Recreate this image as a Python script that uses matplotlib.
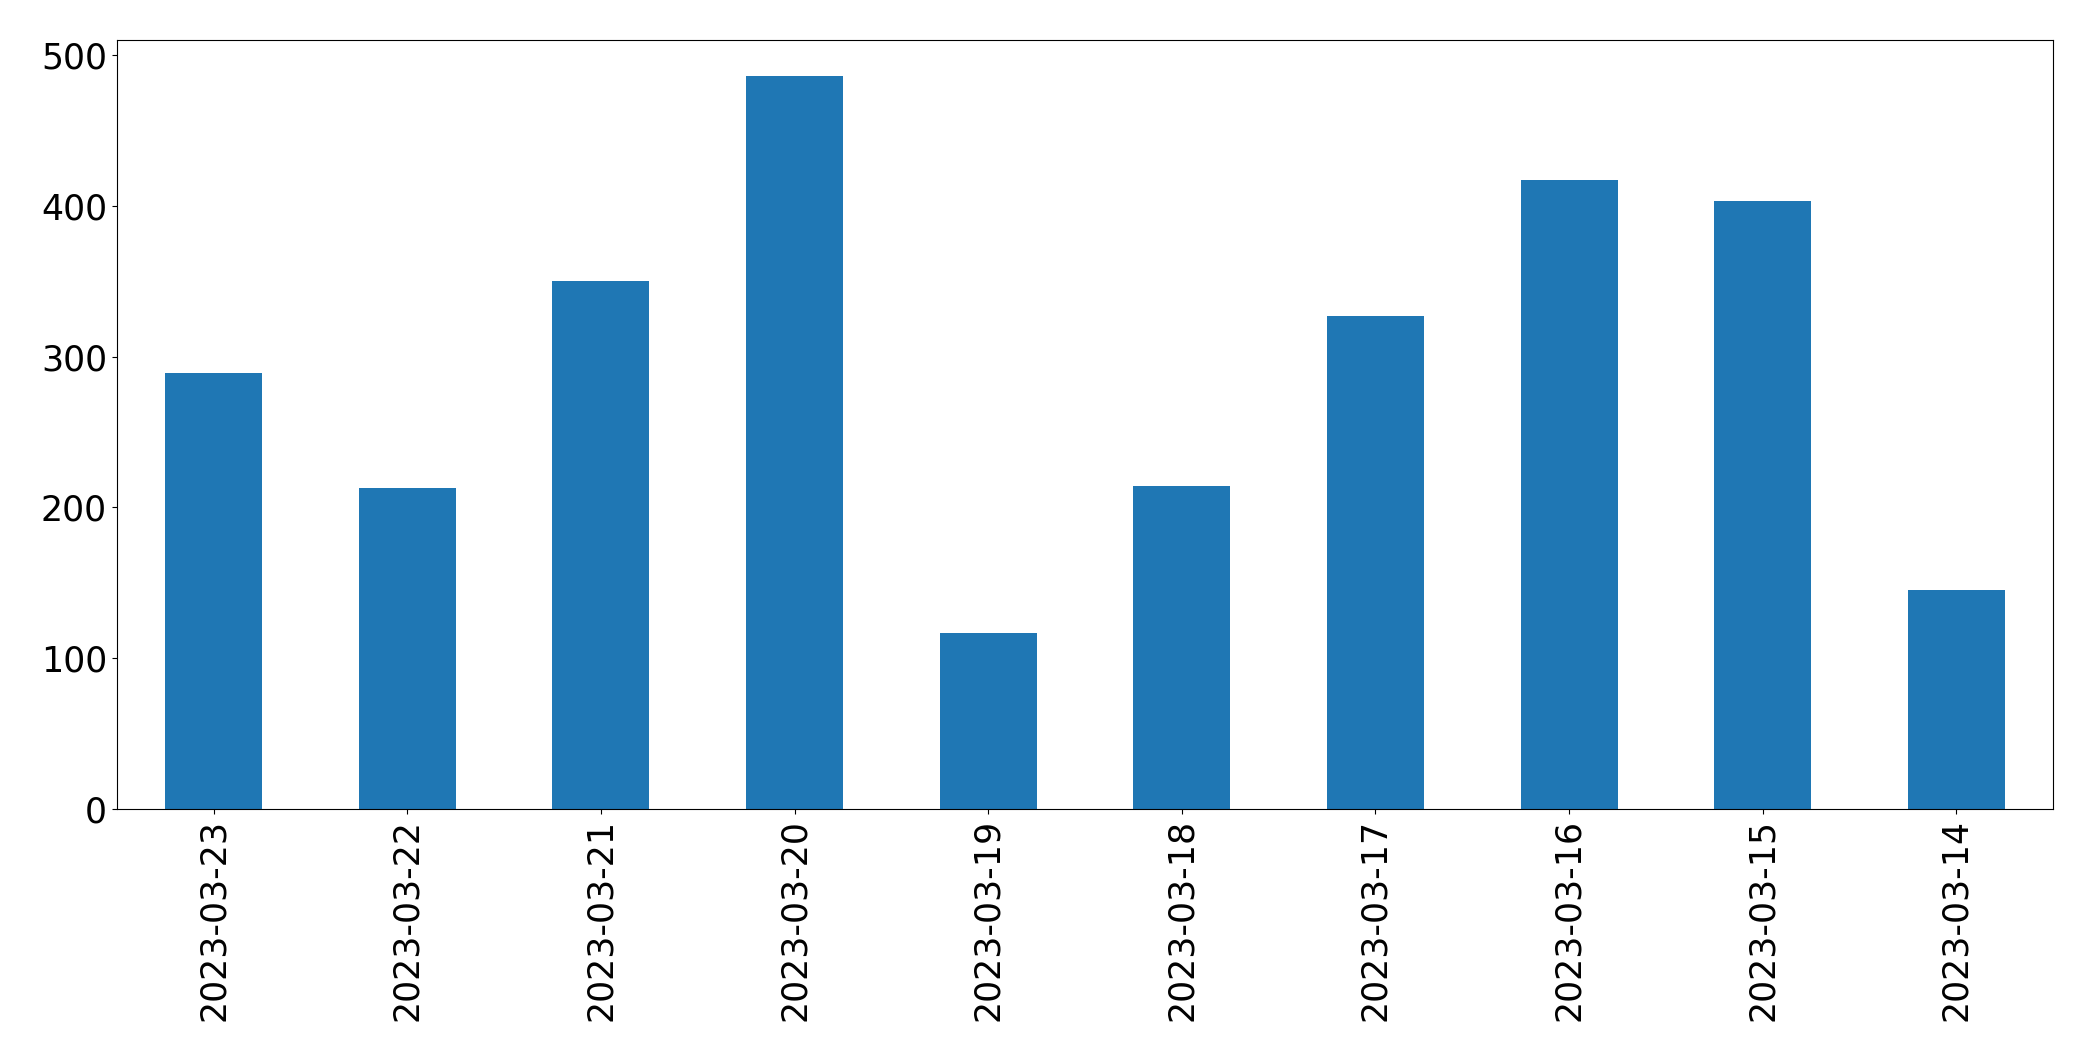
import matplotlib
matplotlib.use("Agg")
import matplotlib.pyplot as plt
import numpy as np

dates = ["2023-03-23", "2023-03-22", "2023-03-21", "2023-03-20", "2023-03-19",
         "2023-03-18", "2023-03-17", "2023-03-16", "2023-03-15", "2023-03-14"]
values = [289, 213, 350, 486, 117, 214, 327, 417, 403, 145]

fig = plt.figure(figsize=(20.93, 10.61), dpi=100)
ax = fig.add_axes([0.0558, 0.2375, 0.981 - 0.0558, 0.9627 - 0.2375])
x = np.arange(len(dates))
ax.bar(x, values, width=0.5, color="#1f77b4")
ax.set_xlim(-0.5, len(dates) - 0.5)
ax.set_ylim(0, max(values) * 1.05)
ax.set_xticks(x)
ax.set_xticklabels(dates, rotation=90)
ax.tick_params(axis="both", labelsize=25)
fig.savefig("out.png", dpi=100)
